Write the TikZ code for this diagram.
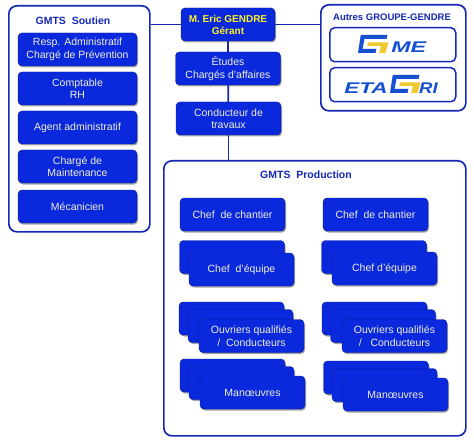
\documentclass[tikz,border=0pt]{standalone}
\usepackage{fontspec}
\setmainfont{Liberation Sans}
\usetikzlibrary{shadows,positioning}
\definecolor{boxblue}{HTML}{0A28DC}
\definecolor{frameblue}{HTML}{1428B4}
\definecolor{logoblue}{HTML}{1450D2}
\definecolor{logoyellow}{HTML}{F0C832}
\definecolor{boxtext}{HTML}{F0F0DC}
\tikzset{
  frame/.style={draw=frameblue, line width=1.7pt, rounded corners=8pt, fill=white, anchor=north west, inner sep=0pt},
  bluebox/.style={fill=boxblue, draw=boxblue!70!black, line width=0.4pt, rounded corners=4pt, text=boxtext,
    minimum width=105pt, minimum height=33pt, inner sep=0pt, align=center, font=\fontsize{10.5}{12.5}\selectfont,
    drop shadow={shadow xshift=1pt, shadow yshift=-1.5pt, fill=black!50, opacity=0.7}},
  sidebox/.style={bluebox, minimum width=119pt},
  logobox/.style={frame, line width=1.5pt, rounded corners=5pt, minimum width=126pt, minimum height=34pt},
  frametitle/.style={text=frameblue, font=\bfseries\fontsize{10.5}{12}\selectfont},
  logotext/.style={text=logoblue, font=\bfseries\itshape\fontsize{15.5}{16}\selectfont, inner sep=0pt},
  link/.style={draw=frameblue, line width=1.7pt}
}
% the G of the logos, top left corner given
\newcommand{\gmark}[2]{
  \begin{scope}[shift={(#1,#2)}, xscale=0.92]
    \fill[logoblue] (3,0) -- (32,0) -- (31,4) -- (7,4) -- (5,14) -- (20,14) -- (19,18) -- (0,18) -- cycle;
    \fill[logoyellow] (11,7.5) -- (33,7.5) -- (30,18) -- (23,18) -- (25,11) -- (10,11) -- cycle;
  \end{scope}
}
\begin{document}
\begin{tikzpicture}[x=1pt,y=-1pt]
  \useasboundingbox (0,0) rectangle (474,441);
  % frames
  \node[frame, minimum width=141pt, minimum height=226pt] (soutien) at (8,5) {};
  \node[frame, minimum width=145pt, minimum height=106pt] (autres) at (320,4) {};
  \node[frame, minimum width=302pt, minimum height=275pt] (production) at (163,160) {};
  \node[frametitle] (titlesoutien) at (73,21) {GMTS\ \ Soutien};
  \node[frametitle, font=\bfseries\fontsize{9.5}{12}\selectfont] (titleautres) at (392,17) {Autres GROUPE-GENDRE};
  \node[frametitle] (titleproduction) at (306,174.5) {GMTS\ \ Production};

  % top column
  \node[bluebox, minimum width=94pt, text=yellow!85!white, font=\bfseries\fontsize{10}{12}\selectfont] (gerant) at (228,24.5) {M. Eric GENDRE\\Gérant};
  \node[bluebox] (etudes) at (228,68.5) {Études\\Chargés d’affaires};
  \node[bluebox] (conducteur) at (228.5,118.5) {Conducteur de\\travaux};
  \draw[link] (soutien.east |- gerant) -- (gerant.west);
  \draw[link] (gerant.east) -- (autres.west |- gerant);
  \draw[link] (gerant) -- (etudes);
  \draw[link] (etudes) -- (conducteur);
  \draw[link] (conducteur) -- (conducteur |- production.north);

  % left column
  \node[sidebox] (resp) at (77.5,49.5) {Resp. Administratif\\Chargé de Prévention};
  \node[sidebox] (comptable) at (77.5,88.5) {Comptable\\RH};
  \node[sidebox] (agent) at (77.5,127.5) {Agent administratif};
  \node[sidebox] (maintenance) at (77.5,166.5) {Chargé de\\Maintenance};
  \node[sidebox] (mecanicien) at (77.5,206.5) {Mécanicien};

  % logos
  \node[logobox] (gme) at (329,27) {};
  \node[logobox] (etagri) at (329,67) {};
  \gmark{358}{35}
  \node[logotext, anchor=west, xscale=1.5] (me) at (391,47.5) {ME};
  \gmark{390}{75}
  \node[logotext, anchor=east, xscale=1.45] (eta) at (388,88) {ETA};
  \node[logotext, anchor=west, xscale=1.2] (ri) at (419,88) {RI};

  % production, left
  \node[bluebox] (chantiera) at (232.5,214.5) {Chef\ \ de chantier};
  \node[bluebox] (equipeaback) at (232,257) {};
  \node[bluebox, yshift=-1.5pt] (equipea) at (241.5,268) {Chef\ \ d’équipe};
  \node[bluebox] (ouvriersaback) at (231.5,318.5) {};
  \node[bluebox] (ouvriersamid) at (240.5,326) {};
  \node[bluebox] (ouvriersa) at (251.5,336) {Ouvriers qualifiés\\/\ \ Conducteurs};
  \node[bluebox] (manoeuvresaback) at (232.5,375.5) {};
  \node[bluebox] (manoeuvresamid) at (241.5,383) {};
  \node[bluebox] (manoeuvresa) at (252.5,392.5) {Manœuvres};

  % production, right
  \node[bluebox] (chantierb) at (375.5,214.5) {Chef\ \ de chantier};
  \node[bluebox] (equipebback) at (374,257) {};
  \node[bluebox, yshift=-1pt] (equipeb) at (384.5,267.5) {Chef d’équipe};
  \node[bluebox] (ouvriersbback) at (374.5,318.5) {};
  \node[bluebox] (ouvriersbmid) at (383,326) {};
  \node[bluebox] (ouvriersb) at (394.5,336) {Ouvriers qualifiés\\/\ \ \ Conducteurs};
  \node[bluebox] (manoeuvresbback) at (376,377.5) {};
  \node[bluebox] (manoeuvresbmid) at (384.5,385) {};
  \node[bluebox] (manoeuvresb) at (395.5,394.5) {Manœuvres};
\end{tikzpicture}
\end{document}
